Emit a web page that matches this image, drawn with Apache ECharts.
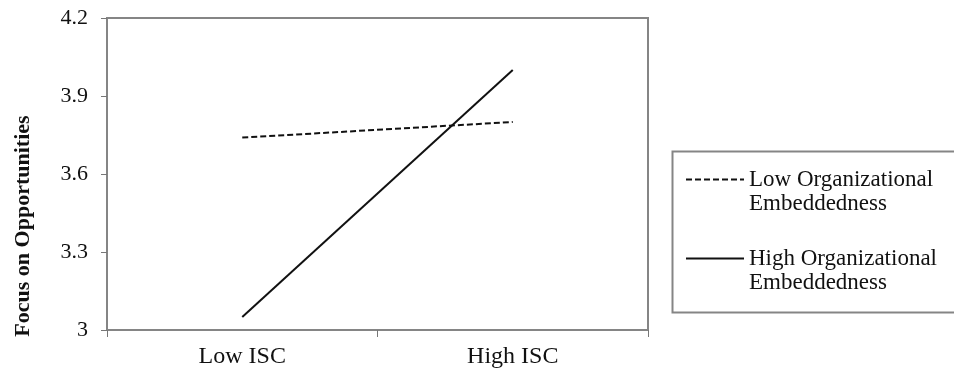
<!DOCTYPE html>
<html>
<head>
<meta charset="utf-8">
<script src="https://cdn.jsdelivr.net/npm/echarts@6/dist/echarts.min.js"></script>
<style>html,body{margin:0;padding:0;background:#fff}#c{width:954px;height:374px}</style>
</head>
<body>
<div id="c"></div>
<script>
var categories = ['Low ISC', 'High ISC'];
var lowEmbed = [3.74, 3.80];
var highEmbed = [3.05, 4.00];
var seriesNames = ['Low Organizational Embeddedness', 'High Organizational Embeddedness'];
var yTicks = [3, 3.3, 3.6, 3.9, 4.2];
var yTitle = 'Focus on Opportunities';

var FONT = 'Liberation Serif';
var chart = echarts.init(document.getElementById('c'));
chart.setOption({
  backgroundColor: '#fff',
  animation: false,
  grid: {left: 107, right: 306, top: 18, bottom: 44, show: true, borderColor: '#858585', borderWidth: 2},
  xAxis: {
    type: 'category', data: categories, boundaryGap: true,
    axisLine: {lineStyle: {color: '#858585', width: 2}},
    axisTick: {show: true, length: 7, lineStyle: {color: '#777', width: 1}},
    axisLabel: {fontFamily: FONT, fontSize: 24, color: '#111', margin: 15}
  },
  yAxis: {
    type: 'value', min: 3, max: 4.2, interval: 0.3,
    axisLine: {show: true, lineStyle: {color: '#858585', width: 2}},
    axisTick: {show: true, length: 6, lineStyle: {color: '#777', width: 1}},
    splitLine: {show: false},
    axisLabel: {fontFamily: FONT, fontSize: 22, color: '#111', margin: 19,
      formatter: function (v) { var s = Math.round(v*10)/10; return yTicks.indexOf(s) >= 0 ? String(s) : ''; }}
  },
  legend: {
    orient: 'vertical', left: 685, top: 144, padding: 0, itemWidth: 58, itemHeight: 12, itemGap: 8,
    itemStyle: {opacity: 0, borderWidth: 0},
    formatter: function (name) {
      var i = name.lastIndexOf(' ');
      return '{e| }\n{t|' + name.slice(0, i) + '}\n{t|' + name.slice(i + 1) + '}';
    },
    textStyle: {fontFamily: FONT, fontSize: 23, color: '#111',
      rich: {t: {fontFamily: FONT, fontSize: 23, color: '#111', lineHeight: 24}, e: {fontSize: 23, lineHeight: 24}}},
    data: seriesNames
  },
  graphic: [
    {type: 'rect', left: 670, top: 149, shape: {width: 300, height: 161}, style: {fill: 'none', stroke: '#858585', lineWidth: 2}, z: 0},
    {type: 'text', x: 23, y: 226, rotation: Math.PI/2, style: {text: yTitle, font: 'bold 22px "Liberation Serif"', fill: '#111', textAlign: 'center', textVerticalAlign: 'middle'}}
  ],
  series: [
    {name: seriesNames[0], type: 'line', data: lowEmbed, symbol: 'none', lineStyle: {color: '#111', width: 2, type: [6, 3]}, itemStyle: {color: '#111'}},
    {name: seriesNames[1], type: 'line', data: highEmbed, symbol: 'none', lineStyle: {color: '#111', width: 2, type: 'solid'}, itemStyle: {color: '#111'}}
  ]
});
</script>
</body>
</html>
